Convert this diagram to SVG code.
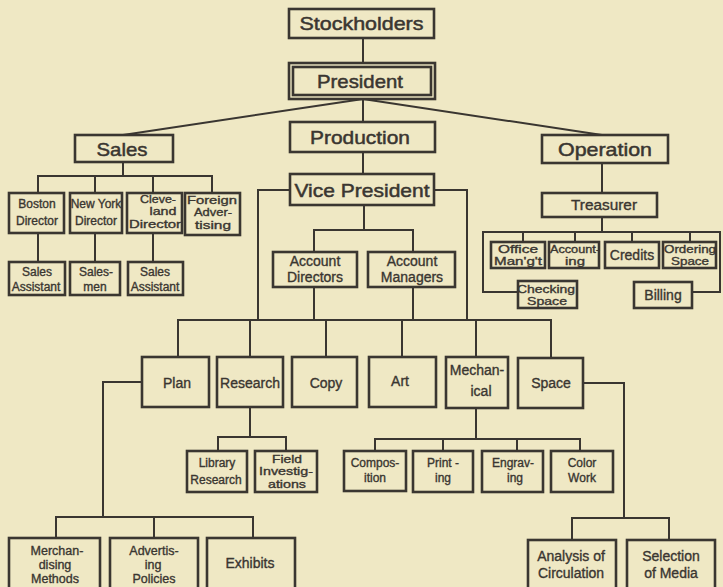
<svg xmlns="http://www.w3.org/2000/svg" width="723" height="587" viewBox="0 0 723 587">
  <style>
    .bg { fill: #efe8c4; }
    .box { fill: none; stroke: #3a3631; stroke-width: 2.6; }
    .wire { fill: none; stroke: #3a3631; stroke-width: 2; }
    text { font-family: "Liberation Sans", "DejaVu Sans", Arial, sans-serif; fill: #3a3631; stroke: #3a3631; stroke-width: 0.35; text-anchor: middle; }
    .t1 { font-size: 19px; stroke-width: 0.5; }
    .t2 { font-size: 14px; }
    .t3 { font-size: 12px; }
    .t4 { font-size: 10.5px; }
    .t5 { font-size: 12.5px; }
  </style>
  <rect class="bg" x="0" y="0" width="723" height="587"/>

  <!-- connectors -->
  <g id="connectors">
    <path class="wire" d="M363 38 V63"/>
    <path class="wire" d="M363 99 L123 135 M363 99 V122 M363 99 L602 135"/>
    <!-- sales -->
    <path class="wire" d="M123 162 V176 M38 193 V176 H212 V193 M95 176 V193 M153 176 V193"/>
    <path class="wire" d="M38 233 V262 M95 233 V262 M153 233 V262"/>
    <!-- operation -->
    <path class="wire" d="M602 163 V193 M602 217 V232"/>
    <path class="wire" d="M518 292 H483 V232 H720 V292 H692 M523 232 V242 M575 232 V242 M632 232 V242 M690 232 V242"/>
    <!-- production -->
    <path class="wire" d="M363 152 V174"/>
    <path class="wire" d="M290 190 H258 V320 M434 190 H467 V320"/>
    <path class="wire" d="M364 205 V230 M314 252 V230 H413 V252"/>
    <path class="wire" d="M314 287 V320 M413 287 V320"/>
    <path class="wire" d="M178 357 V320 H551 V357 M250 320 V357 M326 320 V357 M402 320 V357 M476 320 V357"/>
    <!-- plan -->
    <path class="wire" d="M142 382 H103 V517 M56 538 V517 H253 V538 M154 517 V538"/>
    <!-- research -->
    <path class="wire" d="M250 407 V437 M218 451 V437 H286 V451"/>
    <!-- mechanical -->
    <path class="wire" d="M476 408 V439 M375 451 V439 H580 V451 M443 439 V451 M517 439 V451"/>
    <!-- space -->
    <path class="wire" d="M583 383 H624 V518 M572 540 V518 H669 V540"/>
  </g>

  <g id="stockholders">
    <rect class="box" x="289" y="9" width="145" height="29"/>
    <text class="t1" x="361.5" y="30" textLength="124" lengthAdjust="spacingAndGlyphs">Stockholders</text>
  </g>
  <g id="president">
    <rect class="box" x="289" y="63" width="146" height="36"/>
    <rect class="box" x="293" y="67" width="138" height="28" stroke-width="1.6"/>
    <text class="t1" x="360" y="88" textLength="86" lengthAdjust="spacingAndGlyphs">President</text>
  </g>
  <g id="production">
    <rect class="box" x="290" y="122" width="145" height="30"/>
    <text class="t1" x="360" y="144" textLength="100" lengthAdjust="spacingAndGlyphs">Production</text>
  </g>
  <g id="sales">
    <rect class="box" x="75" y="135" width="98" height="27"/>
    <text class="t1" x="122" y="156" textLength="51" lengthAdjust="spacingAndGlyphs">Sales</text>
  </g>
  <g id="operation">
    <rect class="box" x="542" y="135" width="126" height="28"/>
    <text class="t1" x="605" y="156" textLength="94" lengthAdjust="spacingAndGlyphs">Operation</text>
  </g>
  <g id="boston-director">
    <rect class="box" x="9" y="193" width="55" height="40"/>
    <text class="t3" x="37" y="208">Boston</text>
    <text class="t3" x="37" y="225">Director</text>
  </g>
  <g id="newyork-director">
    <rect class="box" x="70" y="193" width="52" height="40"/>
    <text class="t3" x="96" y="208">New York</text>
    <text class="t3" x="96" y="225">Director</text>
  </g>
  <g id="cleveland-director">
    <rect class="box" x="127" y="193" width="55" height="40"/>
    <text class="t4" x="158" y="203" textLength="36" lengthAdjust="spacingAndGlyphs">Cleve-</text>
    <text class="t4" x="163" y="215" textLength="27" lengthAdjust="spacingAndGlyphs">land</text>
    <text class="t4" x="155" y="228" textLength="52" lengthAdjust="spacingAndGlyphs">Director</text>
  </g>
  <g id="foreign-advertising">
    <rect class="box" x="185" y="193" width="55" height="42"/>
    <text class="t4" x="212" y="204" textLength="50" lengthAdjust="spacingAndGlyphs">Foreign</text>
    <text class="t4" x="213" y="216" textLength="38" lengthAdjust="spacingAndGlyphs">Adver-</text>
    <text class="t4" x="213" y="229" textLength="36" lengthAdjust="spacingAndGlyphs">tising</text>
  </g>
  <g id="sales-assistant-1">
    <rect class="box" x="9" y="262" width="56" height="33"/>
    <text class="t3" x="37" y="276">Sales</text>
    <text class="t3" x="36" y="291">Assistant</text>
  </g>
  <g id="salesmen">
    <rect class="box" x="70" y="262" width="50" height="33"/>
    <text class="t3" x="96" y="276">Sales-</text>
    <text class="t3" x="95" y="291">men</text>
  </g>
  <g id="sales-assistant-2">
    <rect class="box" x="128" y="262" width="55" height="33"/>
    <text class="t3" x="155" y="276">Sales</text>
    <text class="t3" x="155" y="291">Assistant</text>
  </g>
  <g id="treasurer">
    <rect class="box" x="542" y="193" width="115" height="24"/>
    <text class="t2" x="604" y="210" textLength="66" lengthAdjust="spacingAndGlyphs">Treasurer</text>
  </g>
  <g id="office-mangt">
    <rect class="box" x="491" y="242" width="54" height="26"/>
    <text class="t4" x="518" y="253" textLength="40" lengthAdjust="spacingAndGlyphs">Office</text>
    <text class="t4" x="518" y="265" textLength="48" lengthAdjust="spacingAndGlyphs">Man'g't</text>
  </g>
  <g id="accounting">
    <rect class="box" x="549" y="242" width="50" height="26"/>
    <text class="t4" x="575" y="253" textLength="50" lengthAdjust="spacingAndGlyphs">Account-</text>
    <text class="t4" x="575" y="265" textLength="20" lengthAdjust="spacingAndGlyphs">ing</text>
  </g>
  <g id="credits">
    <rect class="box" x="605" y="242" width="54" height="26"/>
    <text class="t2" x="632" y="260">Credits</text>
  </g>
  <g id="ordering-space">
    <rect class="box" x="663" y="242" width="53" height="26"/>
    <text class="t4" x="690" y="253" textLength="52" lengthAdjust="spacingAndGlyphs">Ordering</text>
    <text class="t4" x="690" y="265" textLength="38" lengthAdjust="spacingAndGlyphs">Space</text>
  </g>
  <g id="checking-space">
    <rect class="box" x="518" y="281" width="59" height="27"/>
    <text class="t4" x="546" y="293" textLength="58" lengthAdjust="spacingAndGlyphs">Checking</text>
    <text class="t4" x="547" y="305" textLength="40" lengthAdjust="spacingAndGlyphs">Space</text>
  </g>
  <g id="billing">
    <rect class="box" x="634" y="282" width="58" height="26"/>
    <text class="t2" x="663" y="300">Billing</text>
  </g>
  <g id="vice-president">
    <rect class="box" x="290" y="174" width="144" height="31"/>
    <text class="t1" x="362" y="197" textLength="135" lengthAdjust="spacingAndGlyphs">Vice President</text>
  </g>
  <g id="account-directors">
    <rect class="box" x="273" y="252" width="84" height="35"/>
    <text class="t2" x="315" y="266">Account</text>
    <text class="t2" x="315" y="282">Directors</text>
  </g>
  <g id="account-managers">
    <rect class="box" x="368" y="252" width="87" height="35"/>
    <text class="t2" x="412" y="266">Account</text>
    <text class="t2" x="412" y="282">Managers</text>
  </g>
  <g id="plan">
    <rect class="box" x="142" y="357" width="67" height="50"/>
    <text class="t2" x="177" y="388">Plan</text>
  </g>
  <g id="research">
    <rect class="box" x="217" y="357" width="66" height="50"/>
    <text class="t2" x="250" y="388">Research</text>
  </g>
  <g id="copy">
    <rect class="box" x="292" y="357" width="65" height="50"/>
    <text class="t2" x="326" y="388">Copy</text>
  </g>
  <g id="art">
    <rect class="box" x="369" y="357" width="67" height="50"/>
    <text class="t2" x="400" y="386">Art</text>
  </g>
  <g id="mechanical">
    <rect class="box" x="446" y="357" width="62" height="51"/>
    <text class="t2" x="477" y="375">Mechan-</text>
    <text class="t2" x="481" y="396">ical</text>
  </g>
  <g id="space">
    <rect class="box" x="518" y="358" width="65" height="50"/>
    <text class="t2" x="551" y="388">Space</text>
  </g>
  <g id="library-research">
    <rect class="box" x="187" y="451" width="60" height="41"/>
    <text class="t3" x="217" y="467">Library</text>
    <text class="t3" x="216" y="484">Research</text>
  </g>
  <g id="field-investigations">
    <rect class="box" x="255" y="451" width="62" height="41"/>
    <text class="t4" x="287" y="463" textLength="30" lengthAdjust="spacingAndGlyphs">Field</text>
    <text class="t4" x="286" y="475" textLength="54" lengthAdjust="spacingAndGlyphs">Investig-</text>
    <text class="t4" x="287" y="488" textLength="38" lengthAdjust="spacingAndGlyphs">ations</text>
  </g>
  <g id="composition">
    <rect class="box" x="344" y="451" width="62" height="40"/>
    <text class="t3" x="375" y="467">Compos-</text>
    <text class="t3" x="375" y="482">ition</text>
  </g>
  <g id="printing">
    <rect class="box" x="413" y="451" width="60" height="41"/>
    <text class="t3" x="443" y="467">Print -</text>
    <text class="t3" x="443" y="482">ing</text>
  </g>
  <g id="engraving">
    <rect class="box" x="482" y="451" width="61" height="41"/>
    <text class="t3" x="513" y="467">Engrav-</text>
    <text class="t3" x="515" y="482">ing</text>
  </g>
  <g id="color-work">
    <rect class="box" x="551" y="451" width="62" height="41"/>
    <text class="t3" x="582" y="467">Color</text>
    <text class="t3" x="582" y="482">Work</text>
  </g>
  <g id="merchandising-methods">
    <rect class="box" x="9" y="538" width="91" height="54"/>
    <text class="t5" x="57" y="555">Merchan-</text>
    <text class="t5" x="55" y="569">dising</text>
    <text class="t5" x="55" y="583">Methods</text>
  </g>
  <g id="advertising-policies">
    <rect class="box" x="110" y="538" width="88" height="54"/>
    <text class="t5" x="154" y="555">Advertis-</text>
    <text class="t5" x="153" y="569">ing</text>
    <text class="t5" x="154" y="583">Policies</text>
  </g>
  <g id="exhibits">
    <rect class="box" x="207" y="538" width="88" height="54"/>
    <text class="t2" x="250" y="568">Exhibits</text>
  </g>
  <g id="analysis-of-circulation">
    <rect class="box" x="528" y="540" width="88" height="52"/>
    <text class="t2" x="571" y="561">Analysis of</text>
    <text class="t2" x="571" y="578">Circulation</text>
  </g>
  <g id="selection-of-media">
    <rect class="box" x="627" y="540" width="88" height="52"/>
    <text class="t2" x="671" y="561">Selection</text>
    <text class="t2" x="671" y="578">of Media</text>
  </g>
</svg>
